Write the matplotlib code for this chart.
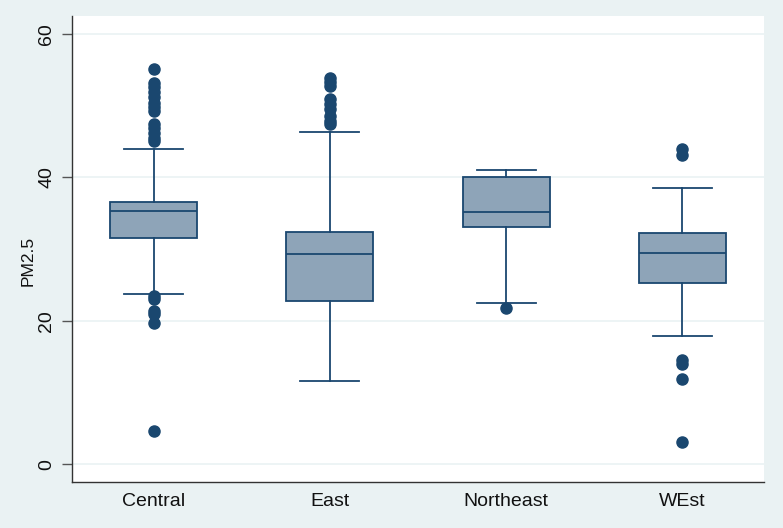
import matplotlib
matplotlib.use('Agg')
import matplotlib.pyplot as plt

regions = ['Central', 'East', 'Northeast', 'WEst']
q1 = [31.5, 22.8, 33.1, 25.3]
med = [35.3, 29.3, 35.1, 29.5]
q3 = [36.6, 32.4, 40.0, 32.2]
whis_lo = [23.7, 11.6, 22.5, 17.8]
whis_hi = [43.9, 46.3, 41.0, 38.5]
outliers = [
    [55.1, 53.2, 52.6, 51.9, 51.2, 50.4, 49.8, 49.3, 47.5, 46.9, 46.2, 45.5, 45.1,
     23.4, 23.0, 21.3, 21.0, 19.7, 4.6],
    [53.9, 53.3, 52.7, 50.9, 50.2, 49.5, 48.5, 47.8, 47.4],
    [21.8],
    [43.9, 43.1, 14.5, 13.9, 11.9, 3.1],
]

bg = '#eaf2f3'
navy = '#1a476f'

plt.rcParams['font.family'] = ['Liberation Sans', 'DejaVu Sans']

fig = plt.figure(figsize=(7.83, 5.28), dpi=100, facecolor=bg)
ax = fig.add_axes([0.092, 0.0871, 0.8837, 0.8826])

stats = []
for i, name in enumerate(regions):
    stats.append({'label': name, 'med': med[i], 'q1': q1[i], 'q3': q3[i],
                  'whislo': whis_lo[i], 'whishi': whis_hi[i], 'fliers': outliers[i]})

ax.bxp(stats, positions=[1, 2, 3, 4], widths=0.494, patch_artist=True,
       boxprops=dict(facecolor='#8ea4b8', edgecolor=navy, linewidth=1.3),
       medianprops=dict(color=navy, linewidth=1.3),
       whiskerprops=dict(color=navy, linewidth=1.3),
       capprops=dict(color=navy, linewidth=1.3),
       capwidths=0.335,
       flierprops=dict(marker='o', markerfacecolor=navy, markeredgecolor=navy,
                       markersize=8, linestyle='none'))

ax.set_xlim(0.537, 4.463)
ax.set_ylim(-2.5, 62.5)
ax.set_yticks([0, 20, 40, 60])
ax.set_yticklabels(['0', '20', '40', '60'], rotation=90, va='center', fontsize=14)
ax.set_xticklabels(regions, fontsize=14)
ax.tick_params(axis='x', length=0, pad=8, colors='#111111')
ax.tick_params(axis='y', length=7, width=1, color='#555555', pad=5, labelcolor='#111111')
ax.set_ylabel('PM2.5', fontsize=12.5, color='#111111')
ax.yaxis.set_label_coords(-0.052, 0.475)

ax.grid(axis='y', color=bg, linewidth=1.2)
ax.set_axisbelow(True)
ax.set_facecolor('white')
for s in ['top', 'right']:
    ax.spines[s].set_visible(False)
for s in ['left', 'bottom']:
    ax.spines[s].set_color('#333333')
    ax.spines[s].set_linewidth(1)

fig.savefig('out.png', dpi=100, facecolor=bg)
